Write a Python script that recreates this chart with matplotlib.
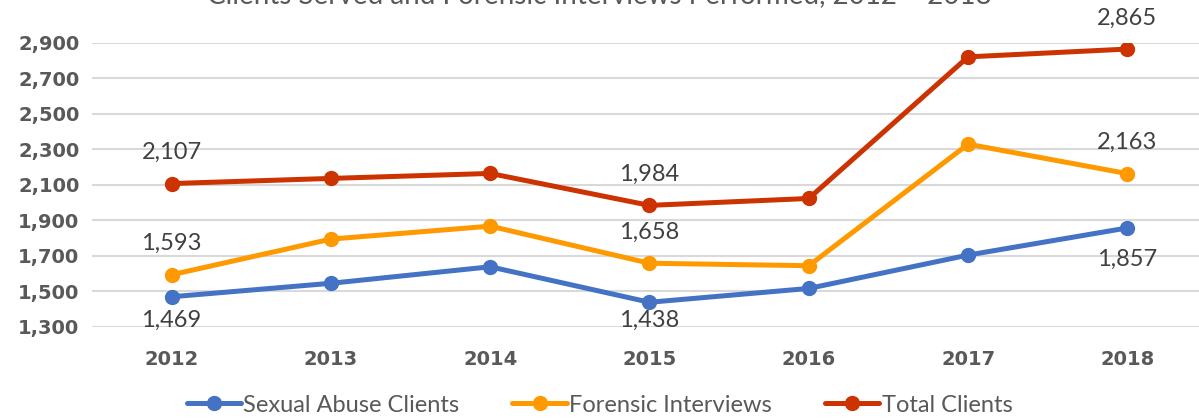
import matplotlib
matplotlib.use("Agg")
import matplotlib.pyplot as plt
from matplotlib.ticker import FuncFormatter

plt.rcParams['font.family'] = ['Lato', 'DejaVu Sans']

years = ['2012', '2013', '2014', '2015', '2016', '2017', '2018']
sexual_abuse = [1469, 1545, 1638, 1438, 1516, 1704, 1857]
forensic = [1593, 1794, 1867, 1658, 1644, 2329, 2163]
total = [2107, 2136, 2164, 1984, 2023, 2821, 2865]
labelled = [0, 3, 6]

fig = plt.figure(figsize=(11.99, 4.2), dpi=100)
ax = fig.add_axes([0.0767, 0.222, 0.93, 0.676])

x = list(range(len(years)))
series = [
    ('Sexual Abuse Clients', sexual_abuse, '#4472C4', -1),
    ('Forensic Interviews', forensic, '#FF9900', 1),
    ('Total Clients', total, '#CC3300', 1),
]
for name, vals, col, side in series:
    ax.plot(x, vals, color=col, lw=3.6, marker='o', ms=10, label=name,
            solid_capstyle='round')
    for i in labelled:
        # labels kept inside the plot area, like Excel does
        ly = max(vals[i] + 175 * side, 1335)
        ax.annotate(f'{vals[i]:,}', (i, vals[i]), xytext=(i, ly),
                    textcoords='data', ha='center', va='center',
                    fontsize=17, color='#404040', annotation_clip=False)

ax.set_xlim(-0.5, 6.5)
ax.set_ylim(1300, 2900)
ax.set_yticks(range(1300, 3000, 200))
ax.yaxis.set_major_formatter(FuncFormatter(lambda v, p: f'{int(v):,}'))
ax.set_xticks(x)
ax.set_xticklabels(years)
ax.grid(axis='y', color='#D9D9D9', lw=1.5)
ax.set_axisbelow(True)
for s in ax.spines.values():
    s.set_visible(False)
ax.tick_params(length=0, labelcolor='#595959')
ax.tick_params(axis='x', pad=17)
ax.tick_params(axis='y', pad=9)
for t in ax.get_xticklabels() + ax.get_yticklabels():
    t.set_fontweight('bold')
    t.set_family('DejaVu Sans')
    t.set_fontsize(14)

fig.text(0.5, 1.012, 'Clients Served and Forensic Interviews Performed, 2012 \u2013 2018',
         ha='center', va='center', fontsize=20, color='#595959')

fig.legend(loc='lower center', bbox_to_anchor=(0.5, -0.04), ncol=3, frameon=False,
           fontsize=17, labelcolor='#595959', handlelength=2.3, columnspacing=2.25,
           handletextpad=0.1)

fig.savefig('out.png', dpi=100)
